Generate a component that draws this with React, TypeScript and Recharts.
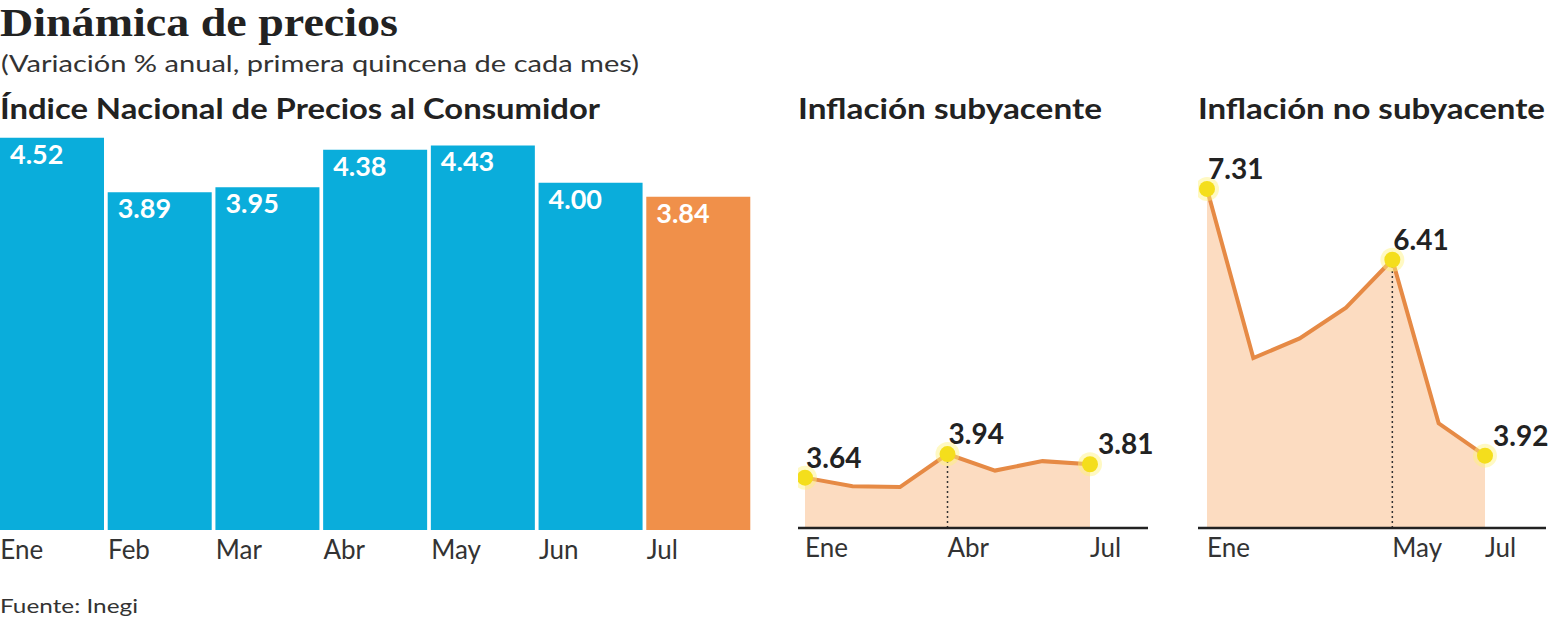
import React from 'react';
import {
  BarChart,
  Bar,
  XAxis,
  YAxis,
  Cell,
  LabelList,
  ComposedChart,
  Area,
  Line,
  ReferenceLine,
} from 'recharts';

// Variación % anual, primera quincena de cada mes
const months = ['Ene', 'Feb', 'Mar', 'Abr', 'May', 'Jun', 'Jul'];
const inpc = [4.52, 3.89, 3.95, 4.38, 4.43, 4.0, 3.84];
const subyacente = [3.64, 3.53, 3.52, 3.94, 3.73, 3.85, 3.81];
const noSubyacente = [7.31, 5.16, 5.41, 5.8, 6.41, 4.33, 3.92];

const subTicks = ['Ene', 'Abr', 'Jul'];
const noSubTicks = ['Ene', 'May', 'Jul'];
const subMarked = ['Ene', 'Abr', 'Jul'];
const noSubMarked = ['Ene', 'May', 'Jul'];

const SANS = 'Lato, "Open Sans", sans-serif';
const SERIF = '"Liberation Serif", "DejaVu Serif", serif';
const BLUE = '#0AADDB';
const ORANGE = '#F0904A';
const LINE = '#E68A45';
const FILL = '#FCDCC1';
const DOT = '#F4DE1C';
const INK = '#222';

const barRows = months.map((m, i) => ({ m, v: inpc[i] }));

function MonthTick(props: any) {
  const { x, y, payload, shift = 0, only } = props;
  if (only && !only.includes(payload.value)) return <g />;
  return (
    <text
      x={Number(x) + shift}
      y={Number(y) + 29}
      fontFamily={SANS}
      fontSize={26}
      fill="#333"
      textAnchor="start"
    >
      {payload.value}
    </text>
  );
}

function BarValue(props: any) {
  const { x, y, value } = props;
  return (
    <text
      x={Number(x) + 10}
      y={Number(y) + 26}
      fontFamily={SANS}
      fontWeight={700}
      fontSize={27}
      fill="#fff"
    >
      {Number(value).toFixed(2)}
    </text>
  );
}

function Panel({ left, width, padL, padR, values, only, marked, guide }: any) {
  const rows = months.map((m, i) => ({ m, v: values[i] }));
  const guideValue = values[months.indexOf(guide)];
  const last = months.length - 1;

  const dot = (p: any) => {
    if (!marked.includes(months[p.index])) return <g key={p.index} />;
    return (
      <g key={p.index}>
        <circle cx={p.cx} cy={p.cy} r={12} fill="#FFF27A" opacity={0.45} />
        <circle cx={p.cx} cy={p.cy} r={8} fill={DOT} />
      </g>
    );
  };

  const label = (p: any) => {
    if (!marked.includes(months[p.index])) return <g key={p.index} />;
    return (
      <text
        key={p.index}
        x={Number(p.x) + (p.index === last ? 8 : 1)}
        y={Number(p.y) - 10}
        fontFamily={SANS}
        fontWeight={700}
        fontSize={28}
        fill={INK}
      >
        {Number(p.value).toFixed(2)}
      </text>
    );
  };

  return (
    <div style={{ position: 'absolute', left, top: 0 }}>
      <ComposedChart
        width={width + 6}
        height={580}
        data={rows}
        margin={{ top: 174, right: 6, bottom: 0, left: 0 }}
      >
        <XAxis
          dataKey="m"
          interval={0}
          padding={{ left: padL, right: padR }}
          axisLine={{ stroke: INK, strokeWidth: 2.5 }}
          tickLine={false}
          tickSize={0}
          tickMargin={0}
          height={52}
          tick={<MonthTick only={only} />}
        />
        <YAxis hide domain={[3, 7.5]} />
        <Area
          type="linear"
          dataKey="v"
          stroke="none"
          fill={FILL}
          fillOpacity={1}
          dot={false}
          activeDot={false}
          isAnimationActive={false}
        />
        <ReferenceLine
          segment={[
            { x: guide, y: 3 },
            { x: guide, y: guideValue },
          ]}
          stroke="#333"
          strokeWidth={1.5}
          strokeDasharray="2 3"
        />
        <Line
          type="linear"
          dataKey="v"
          stroke={LINE}
          strokeWidth={4}
          dot={dot}
          activeDot={false}
          label={label}
          isAnimationActive={false}
        />
      </ComposedChart>
    </div>
  );
}

export default function App() {
  return (
    <div
      style={{
        position: 'absolute',
        left: 0,
        top: 0,
        width: 1549,
        height: 620,
        background: '#fff',
        overflow: 'hidden',
      }}
    >
      <div style={{ position: 'absolute', left: -2, top: 0 }}>
        <BarChart
          width={754}
          height={575}
          data={barRows}
          margin={{ top: 96, right: 0, bottom: 0, left: 0 }}
          barCategoryGap={2}
        >
          <XAxis
            dataKey="m"
            interval={0}
            axisLine={false}
            tickLine={false}
            tickSize={0}
            tickMargin={0}
            height={45}
            tick={<MonthTick shift={-51.5} />}
          />
          <YAxis hide domain={[0, 5]} />
          <Bar dataKey="v" isAnimationActive={false}>
            {barRows.map((r, i) => (
              <Cell key={r.m} fill={i === barRows.length - 1 ? ORANGE : BLUE} />
            ))}
            <LabelList dataKey="v" content={BarValue} />
          </Bar>
        </BarChart>
      </div>

      <Panel
        left={798}
        width={350}
        padL={7}
        padR={58}
        values={subyacente}
        only={subTicks}
        marked={subMarked}
        guide="Abr"
      />
      <Panel
        left={1198}
        width={348}
        padL={9}
        padR={61}
        values={noSubyacente}
        only={noSubTicks}
        marked={noSubMarked}
        guide="May"
      />

      <svg
        width={1549}
        height={620}
        style={{ position: 'absolute', left: 0, top: 0, pointerEvents: 'none' }}
      >
        <text x={0} y={36} fontFamily={SERIF} fontWeight={700} fontSize={40} fill={INK} textLength={398} lengthAdjust="spacingAndGlyphs">
          Dinámica de precios
        </text>
        <text x={1} y={72} fontFamily={SANS} fontSize={23} fill="#333" textLength={638} lengthAdjust="spacingAndGlyphs">
          (Variación % anual, primera quincena de cada mes)
        </text>
        <text x={0} y={119} fontFamily={SANS} fontWeight={700} fontSize={28} fill={INK} textLength={600} lengthAdjust="spacingAndGlyphs">
          Índice Nacional de Precios al Consumidor
        </text>
        <text x={798} y={119} fontFamily={SANS} fontWeight={700} fontSize={28} fill={INK} textLength={304} lengthAdjust="spacingAndGlyphs">
          Inflación subyacente
        </text>
        <text x={1198} y={119} fontFamily={SANS} fontWeight={700} fontSize={28} fill={INK} textLength={347} lengthAdjust="spacingAndGlyphs">
          Inflación no subyacente
        </text>
        <text x={0} y={613} fontFamily={SANS} fontSize={20} fill="#333" textLength={138} lengthAdjust="spacingAndGlyphs">
          Fuente: Inegi
        </text>
      </svg>
    </div>
  );
}
